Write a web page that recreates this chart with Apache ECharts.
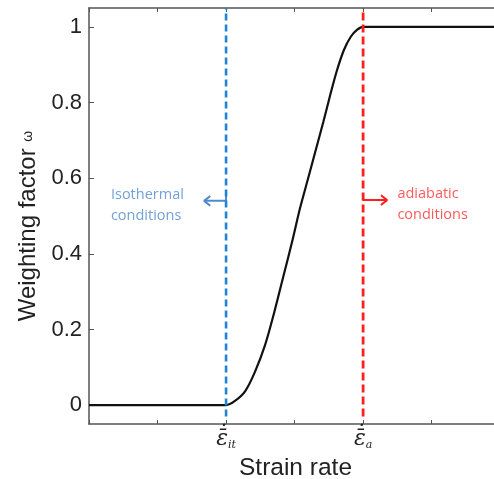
<!DOCTYPE html>
<html>
<head>
<meta charset="utf-8">
<script src="https://cdn.jsdelivr.net/npm/echarts@6/dist/echarts.min.js"></script>
<style>
  html, body { margin: 0; padding: 0; background: #fff; }
  #chart { width: 494px; height: 479px; }
</style>
</head>
<body>
<div id="chart"></div>
<script>
// Weighting factor curve: 0 below the isothermal rate, 1 above the adiabatic rate
const strainRate = [0, 2.0, 2.13, 2.28, 2.42, 2.57, 2.70, 2.83, 2.96, 3.08, 3.20, 3.31, 3.42, 3.52, 3.62, 3.72, 3.82, 3.91, 4.0, 5.91];
const weighting  = [0, 0,   0.011, 0.037, 0.087, 0.159, 0.243, 0.336, 0.429, 0.521, 0.601, 0.675, 0.749, 0.820, 0.886, 0.939, 0.974, 0.992, 1, 1];

// Threshold strain rates (isothermal / adiabatic)
const isoRate = 2;
const adiRate = 4;
const boundaryY = [-0.03, 1.05];

// Axis ranges and ticks
const xRange = [0, 5.91];
const yRange = [-0.05, 1.05];
const yTicks = [0, 0.2, 0.4, 0.6, 0.8, 1];
const xTickLabels = { 2: '{e|ε\u0304\u0307}{s|it}', 4: '{e|ε\u0304\u0307}{s|a}' };

// Annotation text and arrows
const isoText = 'Isothermal\nconditions';
const adiText = 'adiabatic\nconditions';
const isoTextPos = [0.32, 0.527];
const adiTextPos = [4.5, 0.532];
const isoArrow = [[2, 0.561], [2, 0.54], [1.68, 0.54]];
const isoArrowHead = [[1.77, 0.553], [1.68, 0.54], [1.77, 0.527]];
const adiArrow = [[4, 0.556], [4, 0.542], [4.35, 0.542]];
const adiArrowHead = [[4.26, 0.555], [4.35, 0.542], [4.26, 0.529]];

const curve = strainRate.map((x, i) => [x, weighting[i]]);
const axisColor = '#555';
const blue = '#1f83d8';
const red = '#ff1f1f';
const blueText = '#4f8acb';
const redText = '#ff3030';

const chart = echarts.init(document.getElementById('chart'));
chart.setOption({
  animation: false,
  grid: { left: 89, right: 0, top: 8, bottom: 55, outerBoundsMode: 'none', containLabel: false },
  xAxis: [{
    type: 'value', min: xRange[0], max: xRange[1], interval: 1,
    position: 'bottom',
    name: 'Strain rate', nameLocation: 'middle', nameGap: 26,
    nameTextStyle: { fontFamily: 'Liberation Sans', fontSize: 24.5, color: '#222', padding: [0, 0, 0, 8] },
    axisLine: { show: true, onZero: false, lineStyle: { color: axisColor, width: 1.5 } },
    axisTick: { show: true, inside: true, length: 4, lineStyle: { color: axisColor } },
    splitLine: { show: false },
    axisLabel: {
      margin: 3,
      formatter: v => xTickLabels[v] || '',
      rich: {
        e: { fontFamily: 'DejaVu Serif', fontStyle: 'italic', fontSize: 22, color: '#222' },
        s: { fontFamily: 'DejaVu Serif', fontStyle: 'italic', fontSize: 11, color: '#222', padding: [13, 0, 0, 0] }
      }
    }
  }, {
    type: 'value', min: xRange[0], max: xRange[1], interval: 1,
    position: 'top',
    axisLine: { show: true, onZero: false, lineStyle: { color: axisColor, width: 1.5 } },
    axisTick: { show: true, inside: true, length: 4, lineStyle: { color: axisColor } },
    axisLabel: { show: false },
    splitLine: { show: false }
  }],
  yAxis: {
    type: 'value', min: yRange[0], max: yRange[1],
    name: 'Weighting factor {w|ω}', nameLocation: 'middle', nameGap: 47,
    nameTextStyle: { fontFamily: 'Liberation Sans', fontSize: 24, color: '#222', padding: [0, 20, 0, 0],
      rich: { w: { fontFamily: 'Liberation Sans', fontSize: 14, color: '#222' } } },
    axisLine: { show: true, onZero: false, lineStyle: { color: axisColor, width: 1.5 } },
    axisTick: { show: true, inside: true, length: 5, customValues: yTicks, lineStyle: { color: axisColor } },
    splitLine: { show: false },
    axisLabel: { customValues: yTicks, margin: 7, fontFamily: 'Liberation Sans', fontSize: 22, color: '#222' }
  },
  series: [
    {
      type: 'line', data: curve, symbol: 'none', smooth: 0.3,
      lineStyle: { color: '#111', width: 2.2 }, z: 3
    },
    {
      type: 'line', data: boundaryY.map(y => [isoRate, y]), symbol: 'none',
      lineStyle: { color: blue, width: 2.6, type: [7, 4] }, z: 4
    },
    {
      type: 'line', data: boundaryY.map(y => [adiRate, y]), symbol: 'none',
      lineStyle: { color: red, width: 2.8, type: [8, 4] }, z: 4
    },
    { type: 'line', data: isoArrow, symbol: 'none', lineStyle: { color: blueText, width: 2 } },
    { type: 'line', data: isoArrowHead, symbol: 'none', lineStyle: { color: blueText, width: 2 } },
    { type: 'line', data: adiArrow, symbol: 'none', lineStyle: { color: red, width: 2 } },
    { type: 'line', data: adiArrowHead, symbol: 'none', lineStyle: { color: red, width: 2 } },
    {
      type: 'scatter', symbolSize: 0, silent: true,
      data: [
        { value: isoTextPos, label: { formatter: isoText, color: blueText } },
        { value: adiTextPos, label: { formatter: adiText, color: redText } }
      ],
      label: {
        show: true, position: 'right', distance: 0, align: 'left', verticalAlign: 'middle',
        fontFamily: 'Open Sans', fontSize: 14.5, lineHeight: 21
      }
    }
  ]
});
</script>
</body>
</html>
